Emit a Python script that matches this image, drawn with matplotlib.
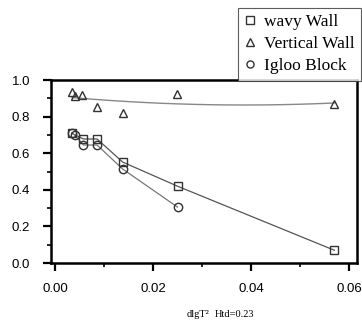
import numpy as np
from matplotlib import pyplot as plt

# data
x_wavy = [0.0034, 0.0058, 0.0086, 0.0138, 0.0250, 0.0570]
y_wavy = [0.71, 0.678, 0.678, 0.552, 0.42, 0.07]

x_vert = [0.0035, 0.0041, 0.0056, 0.0086, 0.0138, 0.0248, 0.0570]
y_vert = [0.934, 0.913, 0.918, 0.852, 0.82, 0.923, 0.869]

x_igloo = [0.0034, 0.0040, 0.0058, 0.0086, 0.0138, 0.0250]
y_igloo = [0.71, 0.70, 0.645, 0.645, 0.514, 0.306]

xticks = [0.00, 0.02, 0.04, 0.06]
yticks = [0.0, 0.2, 0.4, 0.6, 0.8, 1.0]

plt.rcParams['font.family'] = ['Liberation Sans', 'DejaVu Sans']

fig = plt.figure(figsize=(3.62, 3.24), dpi=100)
ax = fig.add_axes([0.141, 0.188, 0.845, 0.565])

# trend line for vertical wall
c = np.polyfit(x_vert, y_vert, 2)
xf = np.linspace(min(x_vert), max(x_vert), 50)
ax.plot(xf, np.polyval(c, xf), color='#888888', lw=1.0, zorder=1)

ax.plot(x_wavy, y_wavy, color='#555555', lw=0.9, zorder=2)
ax.plot(x_igloo, y_igloo, color='#777777', lw=0.9, zorder=2)

mk = dict(ms=6, mfc='none', mec='#333333', mew=1.0, ls='none', zorder=3)
h1, = ax.plot(x_wavy, y_wavy, marker='s', label='wavy Wall', **mk)
h2, = ax.plot(x_vert, y_vert, marker='^', label='Vertical Wall', **mk)
h3, = ax.plot(x_igloo, y_igloo, marker='o', label='Igloo Block', **mk)

ax.set_xlim(-0.0008, 0.0616)
ax.set_ylim(0, 1.0)
ax.set_xticks(xticks)
ax.set_xticklabels(['%.2f' % t for t in xticks])
ax.set_yticks(yticks)
ax.set_yticklabels(['%.1f' % t for t in yticks])
ax.set_xticks(np.arange(0.01, 0.06, 0.02), minor=True)
ax.set_yticks(np.arange(0.1, 1.0, 0.2), minor=True)
ax.tick_params(which='major', direction='out', length=6, width=1.6, labelsize=9.5, pad=8)
ax.tick_params(axis='y', which='major', pad=9)
ax.tick_params(which='minor', direction='out', length=3, width=1.2)
for s in ax.spines.values():
    s.set_linewidth(1.8)

leg = fig.legend(handles=[h1, h2, h3], loc='upper right', bbox_to_anchor=(0.997, 0.976),
                 prop={'family': 'Liberation Serif', 'size': 12.5}, frameon=True,
                 fancybox=False, edgecolor='#333333', handlelength=0.7,
                 handletextpad=0.45, borderpad=0.35, labelspacing=0.35, markerscale=0.85,
                 borderaxespad=0)
leg.get_frame().set_linewidth(0.8)

fig.text(0.515, 0.022, 'dlgT²', family='Liberation Serif', fontsize=7.5)
fig.text(0.592, 0.022, 'Htd=0.23', family='Liberation Serif', fontsize=7.5)

fig.savefig('out.png', dpi=100)
